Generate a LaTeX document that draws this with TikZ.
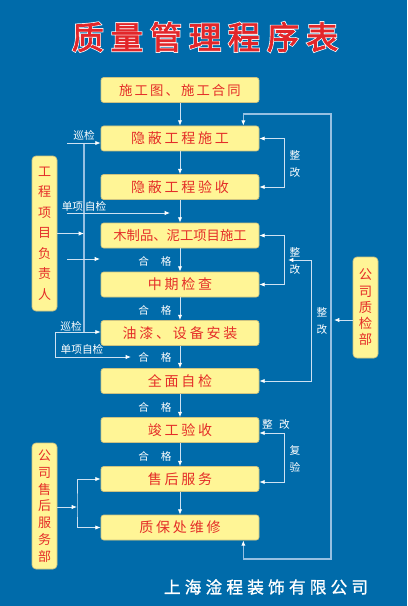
\documentclass[tikz,border=0pt]{standalone}
\usepackage{fontspec}
\usetikzlibrary{calc,arrows.meta}
\newfontfamily\cjk{Noto Sans CJK SC}
\newfontfamily\cjktitle[FakeBold=2.5,LetterSpace=22]{Noto Sans CJK SC}
\newfontfamily\cjktitlerim[FakeBold=7,LetterSpace=22]{Noto Sans CJK SC}
\newfontfamily\cjkfoot[FakeBold=1,LetterSpace=25]{Noto Sans CJK SC}
\definecolor{bgBlue}{RGB}{0,107,170}
\definecolor{boxFill}{RGB}{255,245,150}
\definecolor{boxEdge}{RGB}{205,195,130}
\definecolor{boxRed}{RGB}{228,45,40}
\definecolor{titleRed}{RGB}{226,38,42}
\definecolor{lineBlue}{RGB}{205,225,242}
\definecolor{guideBlue}{RGB}{150,192,226}

\begin{document}
\begin{tikzpicture}[x=0.75pt,y=-0.75pt,>={Latex[length=4pt,width=3.2pt,color=white]},
  stepbox/.style={draw=boxEdge,fill=boxFill,rounded corners=2pt,line width=0.5pt,minimum width=118.5pt,minimum height=18.75pt,inner sep=0pt,text=boxRed,font=\cjk\fontsize{10.5}{12}\selectfont\addfontfeature{LetterSpace=20}},
  sidebox/.style={draw=boxEdge,fill=boxFill,rounded corners=3pt,line width=0.5pt,minimum width=18.75pt,inner sep=0pt,align=center,text=boxRed},
  flow/.style={draw=lineBlue,line width=0.6pt},
  guide/.style={draw=guideBlue,line width=1.2pt},
  lbl/.style={text=white,inner sep=0pt,align=center,font=\cjk\fontsize{8}{12.75}\selectfont}]
  \fill[bgBlue] (0,0) rectangle (407,606);
  \useasboundingbox (0,0) rectangle (407,606);
  \node[font=\cjktitlerim\fontsize{24}{26}\selectfont,text=white] at (205,37) {质量管理程序表};
  \node[font=\cjktitle\fontsize{24}{26}\selectfont,text=titleRed] (ttl) at (205,37) {质量管理程序表};
  \node[stepbox,font=\cjk\fontsize{10}{12}\selectfont\addfontfeature{LetterSpace=16}] (s1) at (180,90) {施工图、施工合同};
  \node[stepbox] (s2) at (180,138.5) {隐蔽工程施工};
  \node[stepbox] (s3) at (180,187) {隐蔽工程验收};
  \node[stepbox,font=\cjk\fontsize{10}{12}\selectfont] (s4) at (180,235.5) {木制品、泥工项目施工};
  \node[stepbox] (s5) at (180,284.5) {中期检查};
  \node[stepbox] (s6) at (180,333) {油漆、设备安装};
  \node[stepbox] (s7) at (180,381) {全面自检};
  \node[stepbox] (s8) at (180,430) {竣工验收};
  \node[stepbox] (s9) at (180,479) {售后服务};
  \node[stepbox] (s10) at (180,527.5) {质保处维修};
  \foreach \a/\b in {s1/s2,s2/s3,s3/s4,s4/s5,s5/s6,s6/s7,s7/s8,s8/s9,s9/s10}
    \draw[flow,->] (\a) -- (\b);
  \foreach \y in {261,310,357,407,456}
    \node[lbl] at (155,\y) {合\hspace{1.1em}格};
  \node[sidebox,minimum height=116.25pt,font=\cjk\fontsize{9.75}{15.4}\selectfont] (pm) at (44.5,233.5) {工\\程\\项\\目\\负\\责\\人};
  \node[sidebox,minimum height=75.75pt,font=\cjk\fontsize{10}{12.2}\selectfont] (qc) at (365.5,307.5) {公\\司\\质\\检\\部};
  \node[sidebox,minimum height=94.5pt,font=\cjk\fontsize{9.75}{12.6}\selectfont] (sh) at (44.5,506) {公\\司\\售\\后\\服\\务\\部};
  \coordinate (xj1) at (67,143);
  \coordinate (vbot) at (84,332);
  \coordinate (xj2) at (55,332);
  \coordinate (dx1) at (67,213);
  \coordinate (xa) at (67,259);
  \coordinate (dx2) at (131,357);
  \draw[guide] (xj1 -| vbot) -- (vbot);
  \draw[flow,->] (xj1) -- (xj1 -| s2.west);
  \draw[flow,->] (dx1) -- ++(103,0);
  \draw[flow,->] (pm) -- (pm -| vbot);
  \draw[flow,->] (xa) -- ++(33,0);
  \draw[flow,->] (xj2) -- (xj2 -| s6.west);
  \draw[flow,->] (xj2) |- (dx2);
  \node[lbl] at (84,135) {巡检};
  \node[lbl] at (84,206) {单项\,自检};
  \node[lbl] at (71,326) {巡检};
  \node[lbl] at (82,349) {单项自检};
  \draw[flow,<->] (s2.east) -- ++(25,0) |- (s3.east);
  \node[lbl] at (295,163.5) {整\\改};
  \draw[flow,<->] (s4.east) -- ++(25,0) |- (s5.east);
  \coordinate (cb) at (288,260);
  \node[lbl] at (295,260.5) {整\\改};
  \draw[flow,<->] (cb) -- ++(23,0) |- (s7.east);
  \node[lbl] at (322,320.5) {整\\改};
  \draw[flow,<->] ([yshift=-2.25pt]s8.east) -- ++(25,0) |- ([yshift=-2.25pt]s9.east);
  \node[lbl] at (276,424) {整\hspace{0.6em}改};
  \node[lbl] at (295,458.5) {复\\验};
  \coordinate (rtop) at (331,114);
  \coordinate (rbot) at (331,559);
  \draw[guide,<->] ($(s2.north east)+(-16,0)$) |- (rtop) -- (rbot) -| ($(s10.south east)+(-16,0)$);
  \coordinate (qin) at (334,320);
  \draw[flow,->] (qin -| qc.west) -- (qin);
  \coordinate (shj) at (77,507);
  \draw[flow,->] (sh.east |- shj) -- (shj);
  \draw[flow,<->] (s9.west) -| (shj) |- (s10.west);
  \node[font=\cjkfoot\fontsize{12.5}{14}\selectfont,text=white] (foot) at (266,587) {上海淦程装饰有限公司};
\end{tikzpicture}
\end{document}
